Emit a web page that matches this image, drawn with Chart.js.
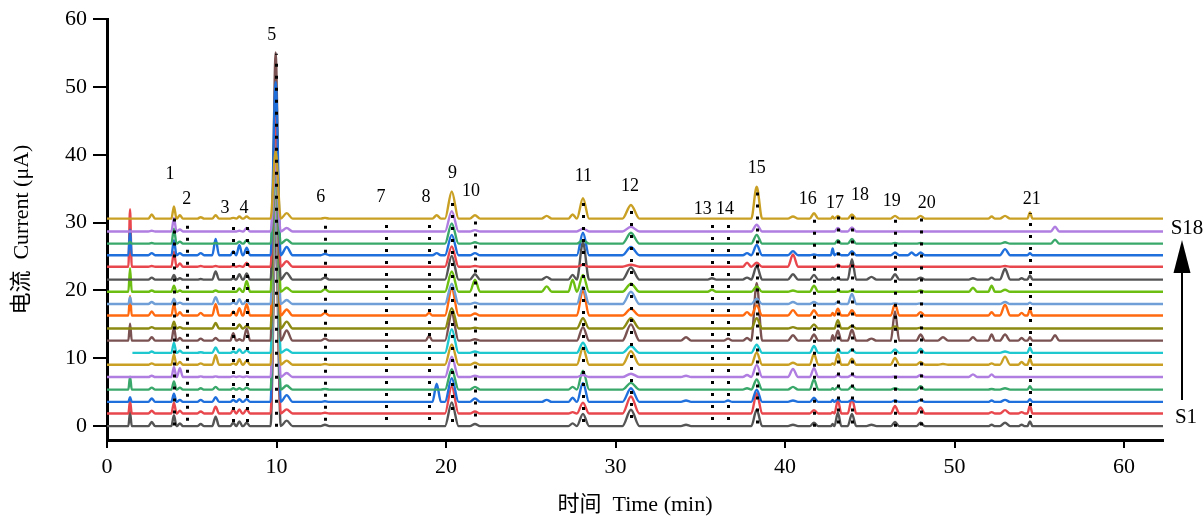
<!DOCTYPE html>
<html>
<head>
<meta charset="utf-8">
<script src="https://cdn.jsdelivr.net/npm/chart.js@4/dist/chart.umd.min.js"></script>
<style>
  html, body { margin: 0; padding: 0; background: #fff; }
</style>
</head>
<body>
<canvas id="chrom" width="1204" height="516"></canvas>
<script>
// retention times (min) of the peaks seen across the 18 chromatograms
const PEAK_TIMES = [1.36, 2.64, 3.95, 4.3, 5.53, 6.41, 7.45, 7.81, 8.24, 9.95, 10.6, 12.86,
  19.0, 19.45, 20.34, 21.71, 25.94, 27.47, 28.08, 30.91, 34.16, 35.69, 36.64, 37.76,
  38.33, 40.47, 41.71, 42.81, 43.12, 43.95, 45.1, 46.49, 47.47, 48.0, 49.32,
  51.09, 52.19, 52.98, 53.96, 54.45, 55.93];
const PEAK_HALF_WIDTHS = [0.1, 0.2, 0.15, 0.18, 0.2, 0.2, 0.17, 0.18, 0.2, 0.3, 0.35, 0.25,
  0.2, 0.25, 0.4, 0.3, 0.3, 0.25, 0.36, 0.5, 0.3, 0.25, 0.25, 0.25,
  0.32, 0.3, 0.25, 0.1, 0.2, 0.25, 0.3, 0.25, 0.22, 0.25, 0.3,
  0.25, 0.2, 0.3, 0.2, 0.15, 0.25];

// stacked baseline of each trace (μA), S1 at the bottom
const BASELINES = [0, 1.86, 3.57, 5.38, 7.23, 9.05, 10.8, 12.6, 14.4, 16.3, 18.0, 19.8, 21.6, 23.5, 25.2, 26.9, 28.7, 30.6];
const TRACE_START = [0, 0, 0, 0, 0, 0, 1.5, 0, 0, 0, 0, 0, 0, 0, 0, 0, 0, 0];
const X_END = 62.3;

// peak heights above baseline (μA), one value per PEAK_TIMES entry
const S1 = [2.1,0.6,1.6,0.4,0.3,1.4,0.5,0.7,0.5,30,0.8,0.2, 0,0,3.5,0.3, 0,0.4,1.8,2.4, 0.2,0,0,0, 2.4,0.2,0.5,0.3,2.0,1.8, 0.2,0.6,0,0.5,0, 0,0.2,0.5,0.2,0.7,0];
const S2 = [1.9,0.4,1.6,0.4,0.3,1.0,0.6,0.6,0.6,32,0.6,0.1, 0,0,4.0,0.3, 0,0.2,1.6,2.5, 0,0,0,0, 3.0,0,0.5,0.2,2.0,2.2, 0,1.1,0,0.9,0, 0,0.2,0.5,0.2,1.2,0];
const S3 = [0.7,0.5,1.2,0.3,0.3,0.7,0.3,0.4,0.4,40,1.0,0.1, 0,2.7,3.5,0.5, 0.3,0.6,2.8,2.0, 0.2,0,0.2,0, 1.8,0.2,0.6,0.3,0.4,0.3, 0,0.2,0,0.3,0, 0,0.2,0.3,0,0.4,0];
const S4 = [1.9,0.3,1.2,0.3,0.2,0.4,0.2,0.2,0.3,28,0.6,0.1, 0,0,3.0,0.4, 0,0.4,2.8,1.0, 0,0,0,0.2, 1.5,0.4,1.5,0.2,0.4,0.5, 0,0.2,0,0.5,0, 0,0.1,0.2,0,0.5,0];
const S5 = [0,0.2,1.5,1.3,0.1,0.1,0.1,0.1,0.1,26,0.6,0, 0,0,3.0,0.2, 0,0,0.3,0.5, 0.2,0,0,0.3, 1.8,1.2,1.3,0,0.3,0.3, 0,0.1,0,0.3,0, 0.4,0.4,0,0,0,0];
const S6 = [0,0.2,1.5,0.4,0.2,1.4,0.2,0.8,0.6,31,0.6,0.1, 0,0,3.0,0.3, 0,0,2.5,2.0, 0,0,0,0, 1.8,0.3,1.6,0.2,1.6,0.9, 0,1.0,0,0.4,0.1, 0,0.2,1.2,0.4,0.9,0];
const S7 = [0,0.2,1.5,0.3,0.1,0.8,0.2,0.5,0.4,30,0.5,0, 0,0,3.5,0.2, 0,0,1.5,1.0, 0,0,0,0, 1.2,0,1.0,0,0.6,0.5, 0,0.5,0,0.6,0, 0,0,0.2,0,0.8,0];
const S8 = [2.5,0.5,1.9,0.4,0.3,0.4,1.1,0.2,1.8,42.5,1.5,0.3, 0.7,0,4.0,0.2, 0,0,2.0,2.4, 0.5,0,0.3,0.4, 8.5,0.8,0.9,0.8,1.5,1.6, 0.3,4.3,0,0.9,0.5, 0.5,0.9,0.9,0.4,0.5,0.8];
const S9 = [0,0.2,1.0,0.2,0,0.8,0,0.6,0.4,29,1.0,0, 0,0,3.0,0.1, 0,0,1.5,1.5, 0,0,0,0, 1.5,0.2,0.6,0,1.2,0.4, 0,0.3,0,0.1,0, 0,0,0,0,0,0];
const S10 = [2.9,0.6,1.8,0.5,0.4,1.7,0.6,1.1,1.7,32,0.9,0.4, 0.4,0,4.0,0.3, 0,0,3.8,1.0, 0,0,0,0.5, 1.5,0.8,0.8,0.4,1.0,0.8, 0,1.7,0,0.5,0, 0,0.5,1.6,0.4,0.9,0];
const S11 = [1.0,0.3,0.8,0.2,0,1.0,0.2,0.7,0.5,27,0.6,0, 0,0,3.0,0.2, 0,0,2.5,1.8, 0,0,0,0, 0.8,0.3,0.3,0,0.3,1.5, 0,0.1,0,0.1,0, 0,0,0.3,0,0.2,0];
const S12 = [3.5,0.2,0.9,0.2,0,0.2,0,0.5,1.6,28,0.6,0.4, 0,0,3.0,1.8, 0.8,1.8,2.5,1.2, 0,0.3,0,0, 0.8,0.2,0.9,0,0.2,0.2, 0,0,0,0.2,0, 0.6,0.9,0.3,0,0,0];
const S13 = [0,0.3,0.7,0.2,0.1,1.2,0.2,0.8,0.9,26,1.0,0.3, 0,0,3.5,0.8, 0.4,0.7,5.5,1.8, 0,0.2,0,0.3, 2.0,0.8,0.7,0.3,0.2,3.0, 0.4,0.8,0,0.3,0, 0.2,0.3,1.6,0.2,0.6,0];
const S14 = [8.5,0.1,2.2,0.5,0.1,0.1,0.1,0.1,0.6,22,0.8,0, 0,0,3.0,0.1, 0,0,0.3,0.3, 0,0,0,0.6, 0.6,1.8,0,0,0.3,0.2, 0,0,0,0,0, 0,0,0.1,0,0,0];
const S15 = [3.8,0.3,2.2,0.3,0.3,2.4,0.6,1.5,1.1,25.5,1.2,0.2, 0,0.3,3.0,0.3, 0,0,3.3,1.2, 0,0,0,0.3, 1.5,0.6,0.1,1.0,0.3,0.6, 0,0.4,0.4,0.4,0, 0,0,0.9,0,0.3,0];
const S16 = [0.3,0.1,2.2,0.3,0,0.1,0,0.3,0.5,12,0.6,0, 0,0,3.0,0.2, 0,0,0.5,1.6, 0,0,0,0, 1.3,0,0,0,0.5,0.7, 0,0.1,0,0.1,0, 0,0,0.2,0,0,0.6];
const S17 = [0,0.1,2.0,0.3,0,0,0,0.1,0.5,10,0.5,0, 0,0,3.0,0.2, 0,0,0.4,0.7, 0,0,0,0, 1.0,0,0,0,0.5,0.6, 0,0,0,0,0, 0,0,0,0,0,0.7];
const S18 = [0,0.6,1.8,0.5,0.2,0.5,0.1,0.3,0.3,10,0.8,0.1, 0,0.5,4.0,0.5, 0.4,0.6,3.0,2.0, 0,0,0,0, 4.7,0.3,0.8,0.3,0.4,0.6, 0,0.4,0,0.4,0, 0,0.3,0.4,0,0.9,0];
const SAMPLES = [S1, S2, S3, S4, S5, S6, S7, S8, S9, S10, S11, S12, S13, S14, S15, S16, S17, S18];

const COLORS = ['#555555', '#e8474d', '#1f6fdc', '#3aa86a', '#b07ee0', '#c9a024', '#1fc7cf', '#7b5252', '#8c8a12',
  '#ff6a10', '#6f9fd6', '#6cbf12', '#555555', '#e8474d', '#1f6fdc', '#3aa86a', '#b07ee0', '#c9a024'];

// numbered peak markers: dotted line position/extent and label position
const PEAK_LABELS = ['1','2','3','4','5','6','7','8','9','10','11','12','13','14','15','16','17','18','19','20','21'];
const LINE_T = [3.95, 4.70, 7.45, 8.24, 9.95, 12.86, 16.46, 19.0, 20.34, 21.71, 28.08, 30.91, 35.69, 36.64, 38.33, 41.71, 43.12, 43.95, 46.49, 48.0, 54.45];
const LINE_BOTTOM = [0.1, 0.8, 0.6, 0.6, -0.1, 0.8, 0.9, 0.9, 0.6, 1.4, 0.6, 1.2, 0.9, 0.9, 0.4, -0.1, 0.4, 0.4, -0.1, 0.1, 1.2];
const LINE_TOP = [31.2, 30.3, 30.1, 30.2, 54.9, 30.2, 30.4, 30.4, 33.6, 31.2, 33.6, 32.4, 30.5, 30.6, 34.6, 31.7, 31.2, 31.4, 31.2, 30.9, 31.4];
const LABEL_T = [3.72, 4.70, 6.96, 8.08, 9.72, 12.61, 16.17, 18.82, 20.39, 21.48, 28.10, 30.86, 35.14, 36.46, 38.33, 41.34, 42.95, 44.43, 46.3, 48.36, 54.56];
const LABEL_Y = [37.2, 33.4, 32.1, 32.1, 57.6, 33.8, 33.7, 33.8, 37.3, 34.6, 36.8, 35.3, 31.95, 31.95, 38.0, 33.4, 32.8, 34.1, 33.2, 32.8, 33.4];

const SERIF = '"Liberation Serif", "Noto Sans CJK SC", serif';

const datasets = SAMPLES.map((heights, i) => {
  const base = BASELINES[i];
  const pts = [{ x: TRACE_START[i], y: base }, { x: X_END, y: base }];
  heights.forEach((h, k) => {
    if (!h) return;
    const t = PEAK_TIMES[k], w = PEAK_HALF_WIDTHS[k];
    pts.push({ x: t - w, y: base }, { x: t, y: base + h }, { x: t + w, y: base });
  });
  pts.sort((a, b) => a.x - b.x);
  return {
    label: 'S' + (i + 1),
    data: pts,
    borderColor: COLORS[i],
    borderWidth: 2.4,
    pointRadius: 0,
    fill: false,
    cubicInterpolationMode: 'monotone',
    order: 17 - i   // upper traces drawn over lower ones
  };
});

const annotate = {
  id: 'annotate',
  afterDatasetsDraw(chart) {
    const { ctx, chartArea } = chart;
    const x = chart.scales.x, y = chart.scales.y;
    ctx.save();
    // dotted peak markers
    ctx.strokeStyle = '#000';
    ctx.lineWidth = 3;
    ctx.lineCap = 'butt';
    ctx.setLineDash([3, 9]);
    LINE_T.forEach((t, i) => {
      const px = Math.round(x.getPixelForValue(t)) + 0.5;
      ctx.beginPath();
      ctx.moveTo(px, y.getPixelForValue(LINE_BOTTOM[i]));
      ctx.lineTo(px, y.getPixelForValue(LINE_TOP[i]));
      ctx.stroke();
    });
    ctx.setLineDash([]);
    // peak numbers
    ctx.fillStyle = '#000';
    ctx.font = '18px ' + SERIF;
    ctx.textAlign = 'center';
    ctx.textBaseline = 'middle';
    PEAK_LABELS.forEach((lab, i) => {
      ctx.fillText(lab, x.getPixelForValue(LABEL_T[i]), y.getPixelForValue(LABEL_Y[i]));
    });
    // sample order arrow on the right
    const rx = chartArea.right;
    ctx.font = '21px ' + SERIF;
    ctx.fillText('S18', rx + 24, 228);
    ctx.fillText('S1', rx + 23, 417);
    ctx.lineWidth = 2;
    ctx.beginPath();
    ctx.moveTo(rx + 19, 400);
    ctx.lineTo(rx + 19, 268);
    ctx.stroke();
    ctx.beginPath();
    ctx.moveTo(rx + 19, 240);
    ctx.lineTo(rx + 10.5, 273);
    ctx.lineTo(rx + 27.5, 273);
    ctx.closePath();
    ctx.fill();
    ctx.restore();
  }
};

new Chart(document.getElementById('chrom').getContext('2d'), {
  type: 'line',
  data: { datasets },
  options: {
    responsive: false,
    animation: false,
    layout: { padding: { top: 17, right: 41, left: 0, bottom: 0 } },
    plugins: { legend: { display: false }, tooltip: { enabled: false } },
    scales: {
      x: {
        type: 'linear', min: 0, max: X_END,
        ticks: { stepSize: 10, includeBounds: false, maxRotation: 0, color: '#000', padding: 6, font: { family: SERIF, size: 22 } },
        grid: { drawOnChartArea: false, drawTicks: true, tickLength: 8, color: '#000', lineWidth: 2 },
        border: { color: '#000', width: 3 },
        title: { display: true, text: '时间  Time (min)', color: '#000', padding: { top: 0, bottom: 0 }, font: { family: SERIF, size: 22, lineHeight: 1 } },
        afterFit: s => { s.height = 76; }
      },
      y: {
        type: 'linear', min: -2.05, max: 60,
        ticks: { stepSize: 10, includeBounds: false, color: '#000', padding: 6, font: { family: SERIF, size: 22 } },
        grid: { drawOnChartArea: false, drawTicks: true, tickLength: 14, color: '#000', lineWidth: 2 },
        border: { color: '#000', width: 3 },
        title: { display: true, text: '电流  Current (μA)', color: '#000', padding: { top: 9, bottom: 0 }, font: { family: SERIF, size: 22, lineHeight: 1.2 } },
        afterFit: s => { s.width = 107; }
      }
    }
  },
  plugins: [annotate]
});
</script>
</body>
</html>
